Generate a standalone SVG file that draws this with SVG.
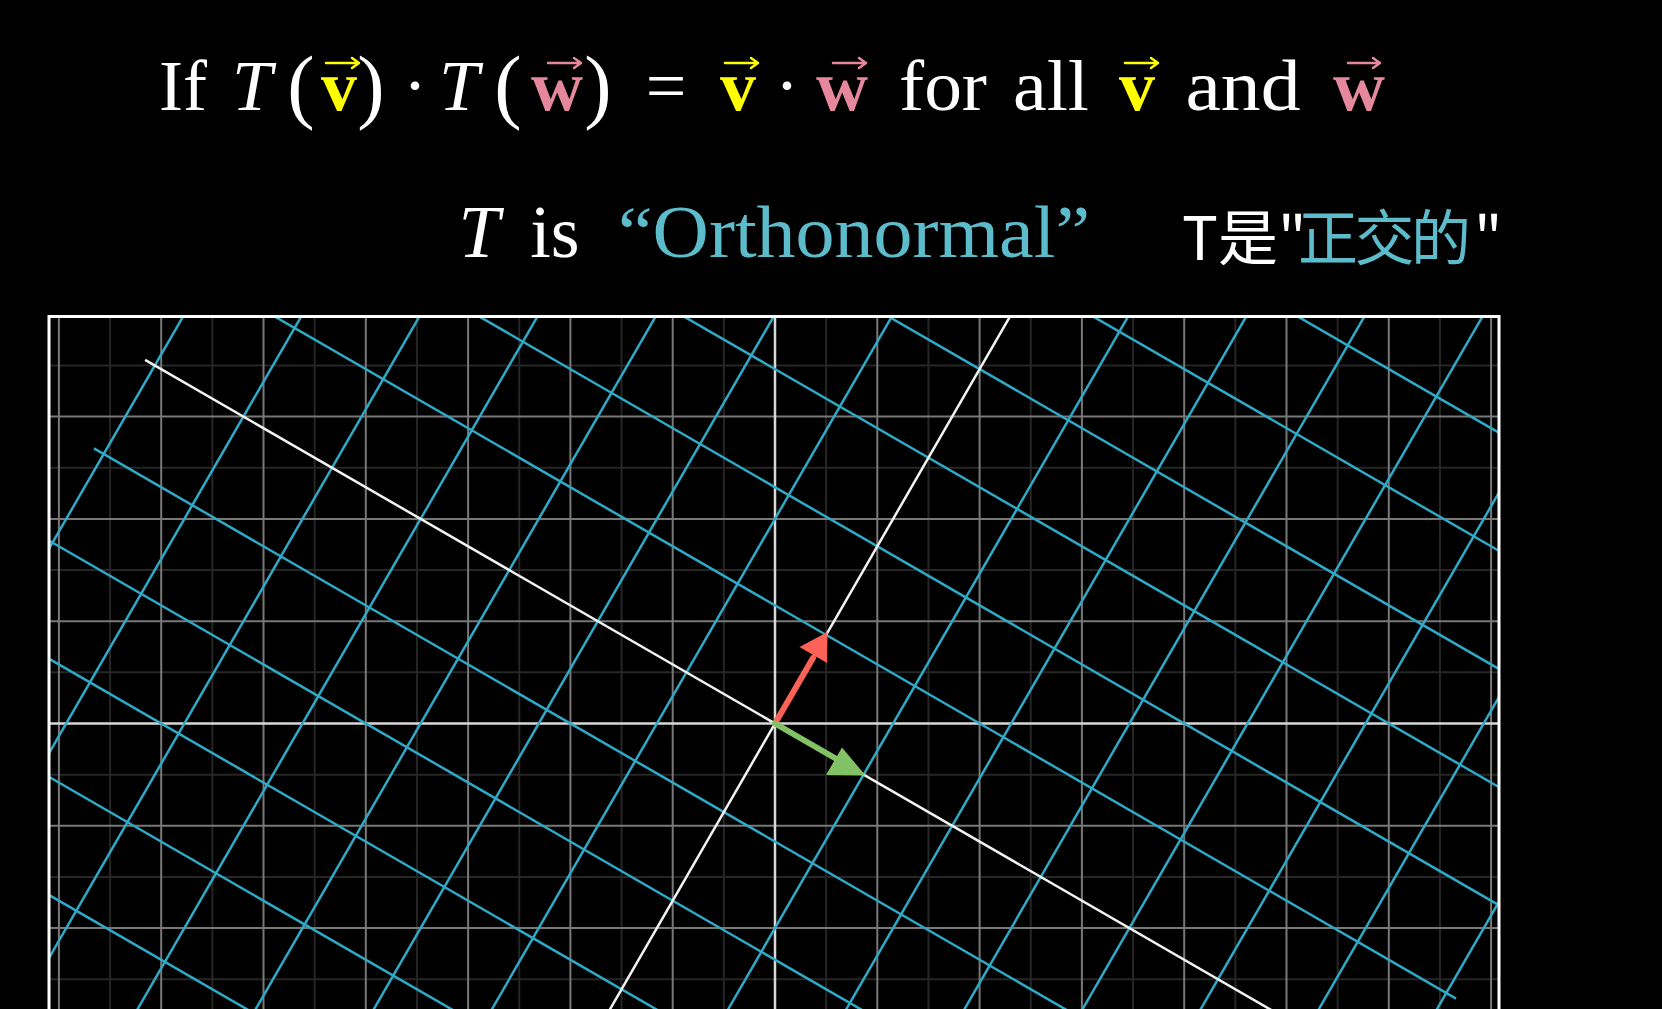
<svg xmlns="http://www.w3.org/2000/svg" width="1662" height="1009" viewBox="0 0 1662 1009">
  <defs>
    <style>
      .t { font-family: "Liberation Serif", "DejaVu Serif", serif; font-size: 72px; fill: #ffffff; text-anchor: middle; }
      .it { font-style: italic; }
      .par { font-size: 82px; }
      .vb { font-weight: bold; fill: #FFFF00; }
      .wb { font-weight: bold; fill: #E5879D; }
      .teal { fill: #5DBCCB; }
      .cjk { font-family: "Noto Sans CJK SC", "Noto Sans", sans-serif; font-size: 60px; fill: #ffffff; }
      .cjkteal { fill: #5DBCCB; }
      .varrow { fill: none; stroke: #FFFF00; stroke-width: 2.5; stroke-linecap: round; stroke-linejoin: round; }
      .warrow { fill: none; stroke: #E5879D; stroke-width: 2.5; stroke-linecap: round; stroke-linejoin: round; }
      .minor { stroke: #262626; stroke-width: 2; fill: none; }
      .major { stroke: #787878; stroke-width: 2; fill: none; }
      .axis0 { stroke: #d8d8d8; stroke-width: 2.5; fill: none; }
      .blue { stroke: #2FA9C6; stroke-width: 2.5; fill: none; }
      .taxis { stroke: #f2f2f2; stroke-width: 2.5; fill: none; }
      .ns { vector-effect: non-scaling-stroke; }
    </style>
    <clipPath id="frameClip">
      <rect x="49" y="316.5" width="1450" height="700"/>
    </clipPath>
  </defs>
  <rect x="0" y="0" width="1662" height="1009" fill="#000000"/>

  <!-- Title -->
  <g id="title">
    <text class="t" x="183" y="110">If</text>
    <text class="t it" x="252" y="110">T</text>
    <text class="t par" x="301" y="113">(</text>
    <text class="t vb" x="339" y="110">v</text>
    <path class="varrow" d="M326 63 H359 M352 58 L359 63 L352 68"/>
    <text class="t par" x="371" y="113">)</text>
    <text class="t" x="415" y="110">·</text>
    <text class="t it" x="459" y="110">T</text>
    <text class="t par" x="508" y="113">(</text>
    <text class="t wb" x="557" y="110">w</text>
    <path class="warrow" d="M548 63 H581 M574 58 L581 63 L574 68"/>
    <text class="t par" x="598" y="113">)</text>
    <text class="t" x="666" y="110">=</text>
    <text class="t vb" x="738" y="110">v</text>
    <path class="varrow" d="M725 63 H758 M751 58 L758 63 L751 68"/>
    <text class="t" x="787" y="110">·</text>
    <text class="t wb" x="842" y="110">w</text>
    <path class="warrow" d="M833 63 H866 M859 58 L866 63 L859 68"/>
    <text class="t" x="943" y="110" textLength="88" lengthAdjust="spacingAndGlyphs">for</text>
    <text class="t" x="1051" y="110" textLength="76" lengthAdjust="spacingAndGlyphs">all</text>
    <text class="t vb" x="1137" y="110">v</text>
    <path class="varrow" d="M1125 63 H1158 M1151 58 L1158 63 L1151 68"/>
    <text class="t" x="1243" y="110" textLength="115" lengthAdjust="spacingAndGlyphs">and</text>
    <text class="t wb" x="1359" y="110">w</text>
    <path class="warrow" d="M1348 63 H1380 M1373 58 L1380 63 L1373 68"/>
  </g>

  <!-- Subtitle -->
  <g id="subtitle">
    <text class="t it" x="479" y="257" style="font-size:74px">T</text>
    <text class="t" x="555" y="257" style="font-size:74px">is</text>
    <text class="t teal" x="618" y="257" style="font-size:74px;text-anchor:start" textLength="472" lengthAdjust="spacingAndGlyphs">“Orthonormal”</text>
  </g>
  <g id="subtitle-zh">
    <text class="cjk" x="1182" y="260">T是"</text>
    <text class="cjk cjkteal" x="1298" y="260" textLength="173" lengthAdjust="spacing">正交的</text>
    <text class="cjk" x="1474" y="260">"</text>
  </g>

  <!-- Plane -->
  <g id="plane" clip-path="url(#frameClip)">
    <g id="background-grid" transform="translate(775 723.5) scale(51.15)">
      <path class="minor ns" d="M-13 -9 V7 M-11 -9 V7 M-9 -9 V7 M-7 -9 V7 M-5 -9 V7 M-3 -9 V7 M-1 -9 V7 M1 -9 V7 M3 -9 V7 M5 -9 V7 M7 -9 V7 M9 -9 V7 M11 -9 V7 M13 -9 V7
        M-15 -7 H15 M-15 -5 H15 M-15 -3 H15 M-15 -1 H15 M-15 1 H15 M-15 3 H15 M-15 5 H15"/>
      <path class="major ns" d="M-14 -9 V7 M-12 -9 V7 M-10 -9 V7 M-8 -9 V7 M-6 -9 V7 M-4 -9 V7 M-2 -9 V7 M2 -9 V7 M4 -9 V7 M6 -9 V7 M8 -9 V7 M10 -9 V7 M12 -9 V7 M14 -9 V7
        M-15 -8 H15 M-15 -6 H15 M-15 -4 H15 M-15 -2 H15 M-15 2 H15 M-15 4 H15"/>
      <path class="axis0 ns" d="M0 -9 V7 M-15 0 H15"/>
    </g>
    <g id="transformed-grid" transform="matrix(88.594 51.15 51.15 -88.594 775 723.5)">
      <path class="blue ns" d="M-7.11 -8 H7.11 M-7.11 -7 H7.11 M-7.11 -6 H7.11 M-7.11 -5 H7.11 M-7.11 -4 H7.11 M-7.11 -3 H7.11 M-7.11 -2 H7.11 M-7.11 -1 H7.11
        M-7.11 1 H7.11 M-7.11 2 H7.11 M-7.11 3 H7.11 M-7.11 4 H7.11 M-7.11 5 H7.11 M-7.11 6 H7.11 M-7.11 7 H7.11 M-7.11 8 H7.11
        M-7 -9 V9 M-6 -9 V9 M-5 -9 V9 M-4 -9 V9 M-3 -9 V9 M-2 -9 V9 M-1 -9 V9
        M1 -9 V9 M2 -9 V9 M3 -9 V9 M4 -9 V9 M5 -9 V9 M6 -9 V9 M7 -9 V9"/>
      <path class="taxis ns" d="M-7.11 0 H7.11 M0 -9 V9"/>
    </g>
  </g>

  <!-- Vectors -->
  <g id="connectors">
    <g id="vector-red">
      <line x1="775" y1="723.5" x2="813" y2="658" stroke="#FC6255" stroke-width="6" stroke-linecap="round"/>
      <polygon points="827.5,632 799.5,647 827,663" fill="#FC6255"/>
    </g>
    <g id="vector-green">
      <line x1="775" y1="723.5" x2="840" y2="761" stroke="#83C167" stroke-width="6" stroke-linecap="round"/>
      <polygon points="865.5,775.5 842,747.5 826,775" fill="#83C167"/>
    </g>
  </g>

  <!-- Frame -->
  <g id="frame">
    <path d="M49 1012 V316.5 H1499 V1012" fill="none" stroke="#ffffff" stroke-width="3"/>
  </g>
</svg>
